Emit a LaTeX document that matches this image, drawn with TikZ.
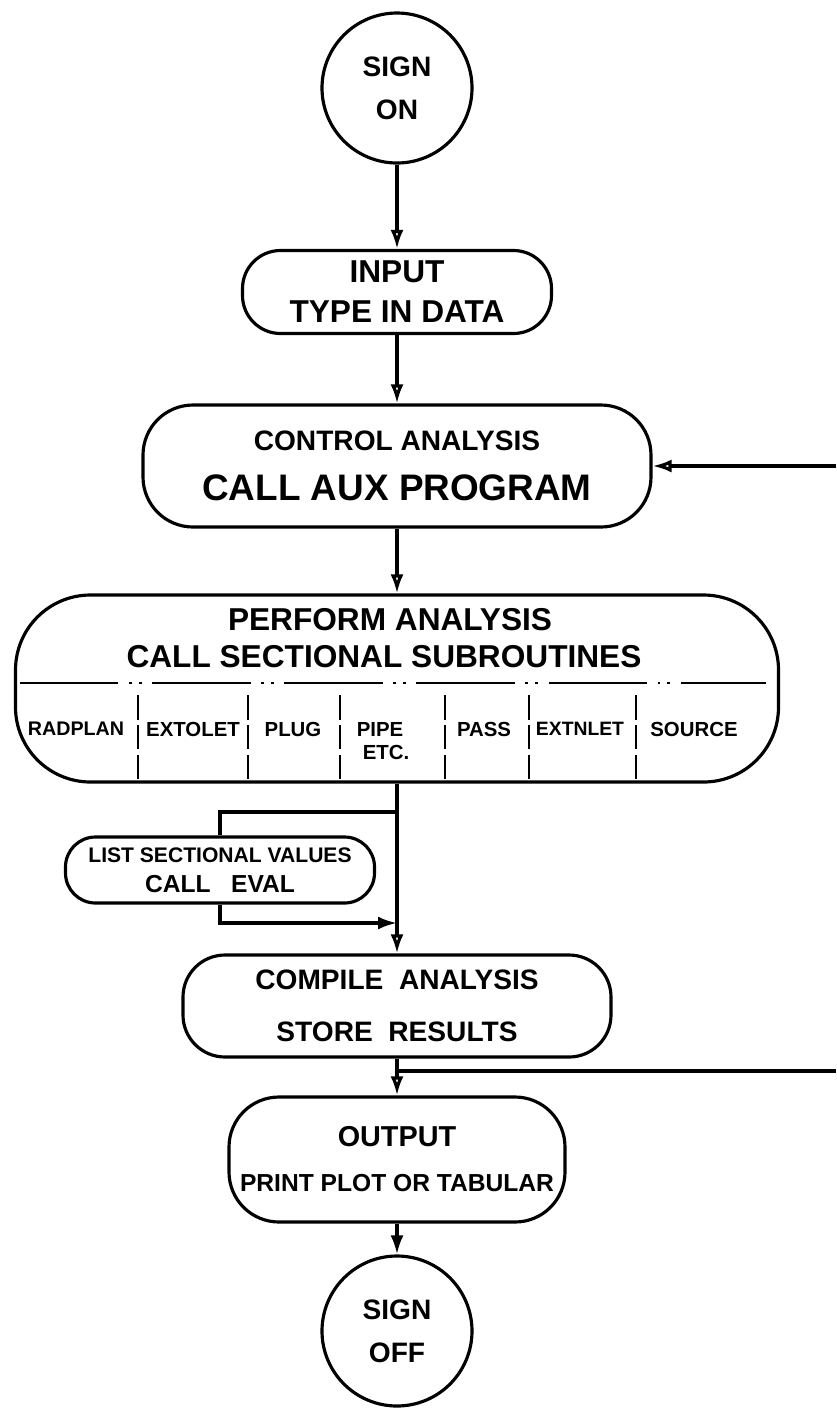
\documentclass[tikz,border=0pt]{standalone}
\usepackage{fontspec}
\setmainfont{Liberation Sans}
\usetikzlibrary{arrows.meta}
\newcommand{\fsz}[2]{\fontsize{#1}{#2}\selectfont\bfseries}

\begin{document}
\begin{tikzpicture}[line width=0.9pt,
  b/.style={draw,rounded corners=#1,align=center,inner sep=0pt},
  c/.style={draw,circle,minimum size=1.5cm,align=center,inner sep=0pt,font=\fsz{8}{12.2}},
  fl/.style={-{Latex[open,length=1.9mm,width=1.3mm]}},
  ff/.style={-{Latex[length=1.9mm,width=1.3mm]}},
  cell/.style={font=\fsz{5.8}{7}},
  sep/.style={line width=0.8pt,dash pattern=on 7pt off 1.5pt}]
\useasboundingbox (0,0) rectangle (8.36,-14.08);
% ---- main column ----
\node[c] (signon) at (3.97,-0.88) {SIGN\\ON};
\node[b=0.38cm,minimum width=3.09cm,minimum height=0.83cm,font=\fsz{9}{11.4}] (input) at (3.97,-2.92) {INPUT\\TYPE IN DATA};
\node[b=0.5cm,minimum width=5.08cm,minimum height=1.22cm,font=\fsz{10.5}{14.2}] (control) at (3.97,-4.66)
  {{\fsz{8}{10}CONTROL ANALYSIS}\\CALL AUX PROGRAM};
% ---- perform analysis with its sections ----
\node[b=0.75cm,minimum width=7.63cm,minimum height=1.87cm] (perform) at (3.97,-6.885) {};
\node[font=\fsz{9}{11}] (ptitle) at (3.90,-6.20) {PERFORM ANALYSIS};
\node[font=\fsz{9}{11}] (psub) at (3.84,-6.57) {CALL SECTIONAL SUBROUTINES};
\draw[line width=0.8pt,dash pattern=on 28pt off 3pt on 0.8pt off 2pt on 0.8pt off 3pt] (0.2,-6.83) -- (7.66,-6.83);
\draw[sep] (1.38,-6.95) -- (1.38,-7.82);
\draw[sep] (2.48,-6.95) -- (2.48,-7.82);
\draw[sep] (3.40,-6.95) -- (3.40,-7.82);
\draw[sep] (4.45,-6.95) -- (4.45,-7.82);
\draw[sep] (5.29,-6.95) -- (5.29,-7.82);
\draw[sep] (6.36,-6.95) -- (6.36,-7.82);
\node[cell,font=\fsz{5.6}{7}] (radplan) at (0.76,-7.29) {RADPLAN};
\node[cell] (extolet) at (1.93,-7.29) {EXTOLET};
\node[cell] (plug) at (2.93,-7.29) {PLUG};
\node[cell] (pipe) at (3.80,-7.29) {PIPE};
\node[cell] (etc) at (3.86,-7.52) {ETC.};
\node[cell] (pass) at (4.84,-7.29) {PASS};
\node[cell,font=\fsz{5.5}{7}] (extnlet) at (5.80,-7.29) {EXTNLET};
\node[cell] (source) at (6.94,-7.29) {SOURCE};
% ---- side loop ----
\node[b=0.3cm,minimum width=3.09cm,minimum height=0.66cm,font=\fsz{6}{8.5}] (list) at (2.2,-8.70)
  {LIST SECTIONAL VALUES\\{\fsz{7}{8.5}CALL\ \ \ EVAL}};
\coordinate (br1) at (3.97,-8.12);
\coordinate (br2) at (3.97,-9.23);
\draw (br1) -| (list.north);
\draw[ff] (list.south) |- (br2);
% ---- compile, output, sign off ----
\node[b=0.42cm,minimum width=4.28cm,minimum height=1.02cm,font=\fsz{8}{14.8}] (compile) at (3.97,-10.06) {COMPILE\ \ ANALYSIS\\STORE\ \ RESULTS};
\node[b=0.5cm,minimum width=3.36cm,minimum height=1.25cm,font=\fsz{7}{12.8}] (output) at (3.97,-11.595)
  {{\fsz{8.2}{12.8}OUTPUT}\\PRINT PLOT OR TABULAR};
\node[c] (signoff) at (3.97,-13.31) {SIGN\\OFF};
% ---- connectors ----
\draw[fl] (signon) -- (input);
\draw[fl] (input) -- (control);
\draw[fl] (control) -- (perform);
\draw[fl] (perform) -- (compile);
\draw[fl] (compile) -- (output);
\draw[ff] (output) -- (signoff);
\coordinate (fbtop) at (8.36,-4.66);
\draw[fl] (fbtop) -- (control);
\coordinate (fbbot) at (8.36,-10.71);
\draw (compile.south |- fbbot) -- (fbbot);
\end{tikzpicture}
\end{document}
